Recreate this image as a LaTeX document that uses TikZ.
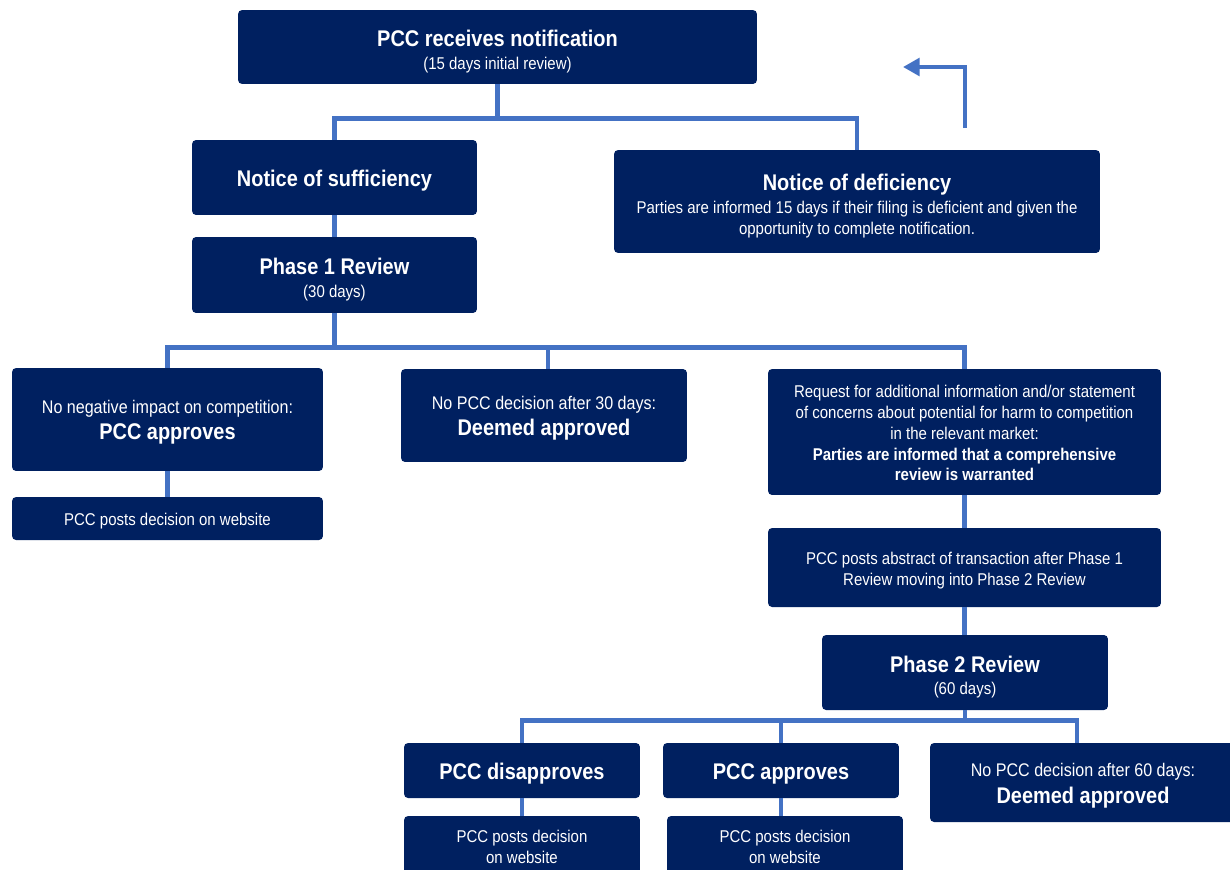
\documentclass[tikz,border=0pt]{standalone}
\usepackage{fontspec}
\setmainfont{Liberation Sans}[FakeStretch=0.88]
\usetikzlibrary{arrows.meta}
\definecolor{navy}{RGB}{0,32,96}
\definecolor{linkblue}{RGB}{68,114,196}
\newcommand{\headfont}{\fontsize{12.9}{15}\selectfont\bfseries}
\newcommand{\midfont}{\fontsize{10.4}{12.5}\selectfont}
\newcommand{\lift}[1]{\rule{0pt}{#1}}
\tikzset{
	box/.style={fill=navy, rounded corners=2.3pt, text=white, align=center, inner sep=0pt,
		font=\fontsize{9.7}{11.9}\selectfont},
	link/.style={draw=linkblue, line width=2.8pt}
}
\begin{document}
\begin{tikzpicture}[x=0.02cm, y=-0.02cm]
	\path[use as bounding box, clip] (0,0) rectangle (1230,869);
	% notification and first split
	\node[box, minimum width=10.38cm, minimum height=1.48cm] (recv) at (497.5,47) {\lift{14.5pt}{\headfont PCC receives notification}\\[1.1pt](15 days initial review)};
	\node[box, minimum width=5.7cm, minimum height=1.5cm] (suff) at (334.5,177.5) {\lift{12.8pt}{\headfont Notice of sufficiency}};
	\node[box, minimum width=9.72cm, minimum height=2.06cm] (defic) at (857,201.5) {\lift{14.5pt}{\headfont Notice of deficiency}\\[1.1pt]Parties are informed 15 days if their filing is deficient and given the\\opportunity to complete notification.};
	\node[box, minimum width=5.7cm, minimum height=1.52cm] (ph1) at (334.5,275) {\lift{14.5pt}{\headfont Phase 1 Review}\\[1.6pt](30 days)};
	% phase 1 outcomes
	\node[box, minimum width=6.22cm, minimum height=2.06cm] (noneg) at (167.5,419.5) {\lift{10.4pt}{\midfont No negative impact on competition:}\\[2.8pt]{\headfont PCC approves}};
	\node[box, minimum width=6.22cm, minimum height=0.86cm] (post1) at (167.5,518.5) {\lift{10.5pt}PCC posts decision on website};
	\node[box, minimum width=5.72cm, minimum height=1.86cm] (dm30) at (544,415.5) {\lift{11pt}{\midfont No PCC decision after 30 days:}\\[3pt]{\headfont Deemed approved}};
	\node[box, minimum width=7.86cm, minimum height=2.52cm] (req) at (964.5,432) {\lift{8.2pt}Request for additional information and/or statement\\of concerns about potential for harm to competition\\in the relevant market:\\\textbf{Parties are informed that a comprehensive}\\\textbf{review is warranted}};
	\node[box, minimum width=7.86cm, minimum height=1.58cm] (abstr) at (964.5,567.5) {\lift{10.5pt}PCC posts abstract of transaction after Phase 1\\Review moving into Phase 2 Review};
	\node[box, minimum width=5.72cm, minimum height=1.5cm] (ph2) at (965,672.5) {\lift{14.5pt}{\headfont Phase 2 Review}\\[1.1pt](60 days)};
	% phase 2 outcomes
	\node[box, minimum width=4.72cm, minimum height=1.1cm] (disap) at (522,770.5) {\lift{12.8pt}{\headfont PCC disapproves}};
	\node[box, minimum width=4.72cm, minimum height=1.1cm] (appr) at (781,770.5) {\lift{12.8pt}{\headfont PCC approves}};
	\node[box, minimum width=6.12cm, minimum height=1.58cm] (dm60) at (1083,782.5) {\lift{11pt}{\midfont No PCC decision after 60 days:}\\[3.5pt]{\headfont Deemed approved}};
	\node[box, minimum width=4.72cm, minimum height=1.24cm] (post2) at (522,847) {PCC posts decision\\on website};
	\node[box, minimum width=4.72cm, minimum height=1.24cm] (post3) at (785,847) {PCC posts decision\\on website};
	% connectors
	\draw[link] (recv.south) -- ++(0,34) coordinate (j1);
	\draw[link] (suff.north) |- (j1) -| (defic.north);
	\draw[link] (suff.south) -- (ph1.north);
	\draw[link] (ph1.south) -- ++(0,34) coordinate (j2);
	\draw[link] (noneg.north) |- (j2) -| (req.north);
	\draw[link] ([xshift=0.08cm]dm30.north) -- ([xshift=0.08cm]dm30.north |- j2);
	\draw[link] (noneg.south) -- (post1.north);
	\draw[link] (req.south) -- (abstr.north);
	\draw[link] (abstr.south) -- (abstr.south |- ph2.north);
	\draw[link] (ph2.south) -- ++(0,10) coordinate (j3);
	\draw[link] (disap.north) |- (j3) -| ([xshift=-0.12cm]dm60.north);
	\draw[link] (appr.north) -- (appr.north |- j3);
	\draw[link] (disap.south) -- (post2.north);
	\draw[link] (appr.south) -- (appr.south |- post3.north);
	% return arrow
	\coordinate (a0) at (965,128);
	\coordinate (a1) at (903,67);
	\draw[link, -{Triangle[length=9.5pt,width=10pt]}] (a0) |- (a1);
\end{tikzpicture}
\end{document}
